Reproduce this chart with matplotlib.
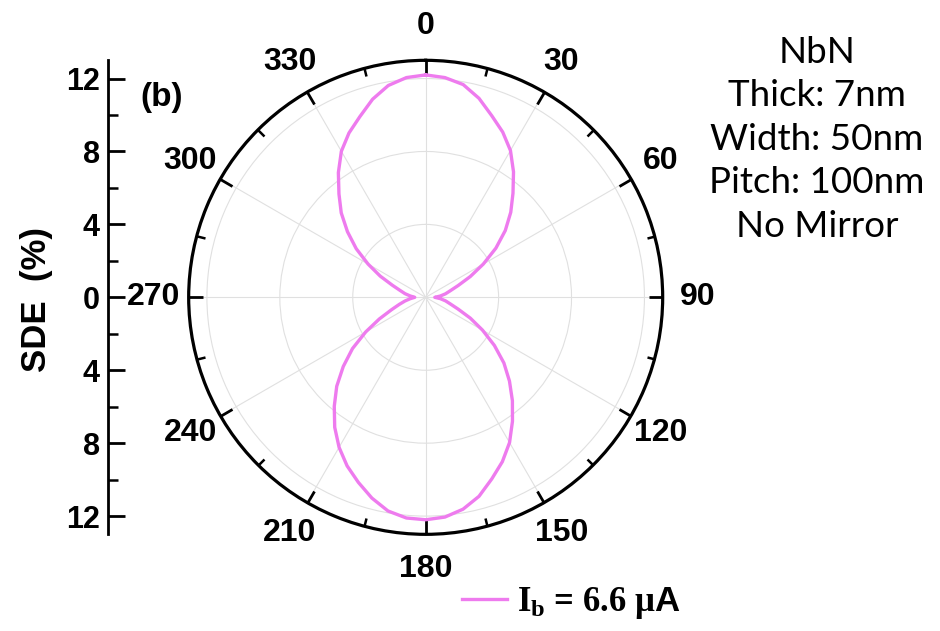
import numpy as np
import matplotlib
matplotlib.use("Agg")
import matplotlib.pyplot as plt

plt.rcParams["mathtext.fontset"] = "custom"
plt.rcParams["mathtext.bf"] = "Liberation Serif:bold"
plt.rcParams["mathtext.rm"] = "Liberation Serif:bold"
plt.rcParams["mathtext.sf"] = "Liberation Sans:bold"

# SDE (%) versus field angle (deg), 5 deg steps
angles_deg = list(range(0, 361, 5))
sde = [12.2, 12.1, 11.85, 11.3, 10.6, 10.0, 9.3, 8.4, 7.45, 6.6,
       5.7, 4.7, 3.65, 2.7, 1.9, 1.4, 1.1, 0.8, 0.5,
       0.8, 1.1, 1.4, 1.9, 2.7, 3.6, 4.6, 5.6, 6.5,
       7.4, 8.3, 9.2, 9.95, 10.6, 11.3, 11.8, 12.1, 12.2,
       12.15, 11.9, 11.4, 10.8, 10.2, 9.5, 8.7, 7.8, 6.9,
       5.9, 4.9, 3.8, 2.8, 2.0, 1.5, 1.15, 0.85, 0.6,
       0.85, 1.15, 1.45, 1.95, 2.75, 3.65, 4.65, 5.6, 6.55,
       7.4, 8.35, 9.25, 9.95, 10.55, 11.25, 11.8, 12.1, 12.2]

theta_ticks = np.arange(0, 360, 30)
theta_labels = [str(a) for a in theta_ticks]
r_grid = [4, 8, 12]
r_max = 13
sde_ticks = [-12, -8, -4, 0, 4, 8, 12]
sde_labels = [str(abs(v)) for v in sde_ticks]

info_lines = ["NbN", "Thick: 7nm", "Width: 50nm", "Pitch: 100nm", "No Mirror"]
curve_label = r"$\mathbf{I_b}$ = 6.6 μ$\mathsf{A}$"
curve_color = "#EE7BEE"

bold = dict(family="Liberation Sans", weight="bold")

fig = plt.figure(figsize=(9.4, 6.31), dpi=100)

# polar panel
ax = fig.add_axes([0.2007, 0.1532, 0.5043, 0.7512], projection="polar")
ax.set_theta_zero_location("N")
ax.set_theta_direction(-1)
th = np.deg2rad(angles_deg)
ax.plot(th, sde, color=curve_color, lw=2.4, label=curve_label)
ax.set_ylim(0, r_max)
ax.set_yticks(r_grid)
ax.set_yticklabels([])
ax.set_xticks(np.deg2rad(theta_ticks))
ax.set_xticklabels(theta_labels, fontsize=23, **bold)
ax.set_xticks(np.deg2rad(np.arange(15, 360, 30)), minor=True)
ax.tick_params(axis="x", which="both", bottom=False, top=True)
ax.tick_params(axis="x", which="major", direction="in", length=10, width=2, pad=18)
ax.tick_params(axis="x", which="minor", direction="in", length=6, width=1.8)
ax.grid(True, color="#e0e0e0", lw=0.8)
ax.spines["polar"].set_linewidth(2.3)

# left SDE scale
lax = fig.add_axes([0.1149, 0.1532, 0.01, 0.7512])
lax.set_ylim(-r_max, r_max)
lax.set_yticks(sde_ticks)
lax.set_yticklabels(sde_labels, fontsize=22, **bold)
lax.set_yticks(np.arange(-10, 11, 4), minor=True)
lax.tick_params(axis="y", which="major", direction="in", length=12, width=2, pad=6)
lax.tick_params(axis="y", which="minor", direction="in", length=7, width=1.8)
lax.set_xticks([])
for s in ["top", "right", "bottom"]:
    lax.spines[s].set_visible(False)
lax.spines["left"].set_linewidth(2)
lax.patch.set_visible(False)
fig.text(0.039, 0.525, "SDE  (%)", rotation=90, ha="center", va="center",
         fontsize=25, **bold)

fig.text(0.172, 0.846, "(b)", ha="center", va="center", fontsize=24, **bold)

fig.text(0.869, 0.779, "\n".join(info_lines), ha="center", va="center",
         family="Lato", fontsize=26.5, linespacing=1.39)

fig.legend(loc="center left", bbox_to_anchor=(0.491, 0.044), frameon=False,
           borderpad=0, borderaxespad=0, handlelength=1.3, handletextpad=0.3,
           prop=dict(family="Liberation Serif", weight="bold", size=25))

fig.savefig("out.png", dpi=100)
